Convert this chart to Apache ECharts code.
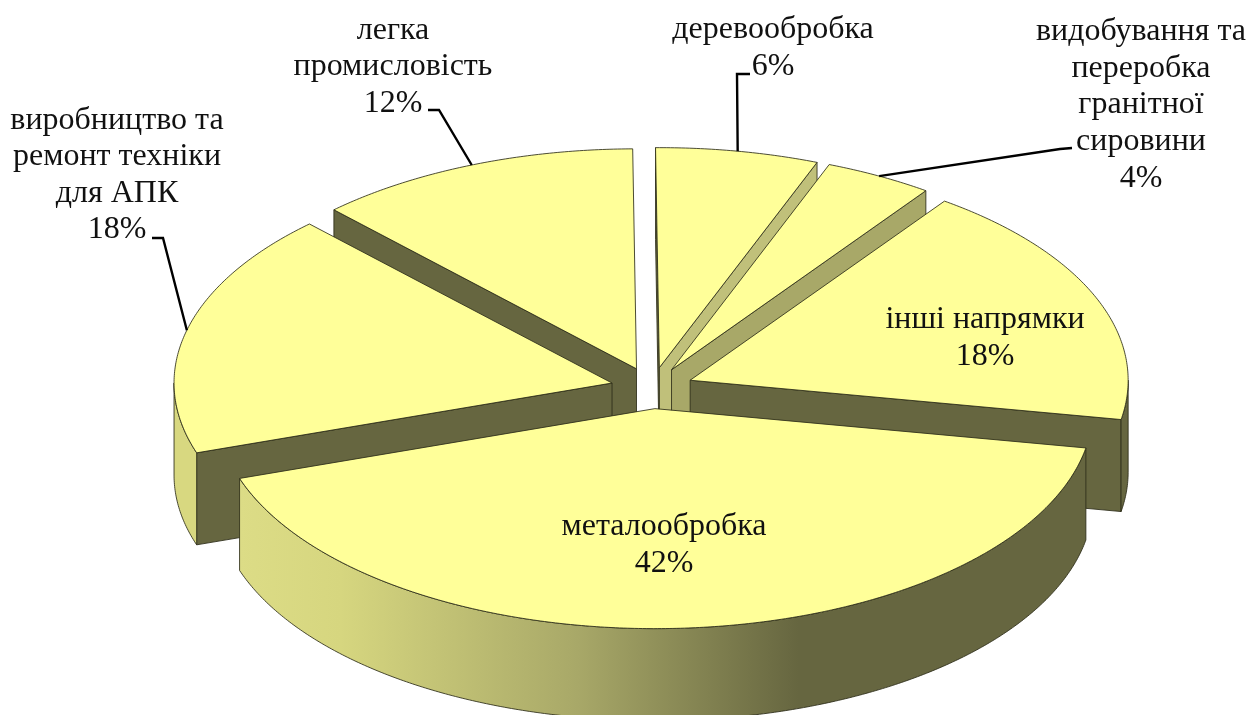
<!DOCTYPE html>
<html>
<head>
<meta charset="utf-8">
<style>
  html, body { margin: 0; padding: 0; background: #fff; }
  #main { width: 1248px; height: 715px; }
</style>
<script src="https://cdn.jsdelivr.net/npm/echarts@6/dist/echarts.min.js"></script>
</head>
<body>
<div id="main"></div>
<script>
// clockwise from the top of the pie
var names = [
  'деревообробка',
  'видобування та\nпереробка\nгранітної\nсировини',
  'інші напрямки',
  'металообробка',
  'виробництво та\nремонт техніки\nдля АПК',
  'легка\nпромисловість'
];
var shares = [6, 4, 18, 42, 18, 12];

// label centres and leader elbows, same order as names (null = label sits on the slice)
var labelCentres = [[773, 48], [1141, 105], [985, 338], [664, 545], [117, 175], [393, 67]];
var leaderStarts = [[750, 74], [1072, 148], null, null, [152, 238], [428, 110]];
var leaderElbows = [[737, 74], [1060, 149], null, null, [163, 238], [439, 110]];

// colours of the walls you can see on each slice
var endWallColors = ['#c0c07a', '#a8a868', '#666640', '#666640', '#666640', '#666640'];
var startWallColor = '#666640';
var topColor = '#ffff99';
var edgeColor = 'rgba(45,45,25,0.85)';

// pie geometry
var cx = 652;
var cy = 388;
var rx = 438;
var ry = 220;
var depth = 92;
var explode = 0.094;
var startAngle = 269.5;

var slices = [];
var total = shares.reduce(function (a, b) { return a + b; }, 0);
var running = startAngle;
shares.forEach(function (share) {
  var sweep = share / total * 360;
  var mid = (running + sweep / 2) * Math.PI / 180;
  slices.push({
    from: running,
    to: running + sweep,
    apex: [cx + rx * explode * Math.cos(mid), cy + ry * explode * Math.sin(mid)],
    anchorAngle: running + sweep / 2
  });
  running += sweep;
});

function rimPoint(slice, deg, drop) {
  var a = deg * Math.PI / 180;
  return [slice.apex[0] + rx * Math.cos(a), slice.apex[1] + ry * Math.sin(a) + (drop || 0)];
}

function arcPoints(slice, from, to, drop) {
  var pts = [];
  var steps = Math.max(2, Math.ceil(Math.abs(to - from) * 2));
  for (var i = 0; i <= steps; i++) {
    pts.push(rimPoint(slice, from + (to - from) * i / steps, drop));
  }
  return pts;
}

function wall(slice, deg, color) {
  var rim = rimPoint(slice, deg, 0);
  return {
    type: 'polygon',
    shape: { points: [slice.apex, rim, [rim[0], rim[1] + depth], [slice.apex[0], slice.apex[1] + depth]] },
    style: { fill: color, stroke: edgeColor, lineWidth: 1 }
  };
}

function outerFill(index) {
  if (index === 3) {
    return new echarts.graphic.LinearGradient(0, 0, 1, 0, [
      { offset: 0, color: '#dcdc86' },
      { offset: 0.12, color: '#d6d67f' },
      { offset: 0.4, color: '#a8a868' },
      { offset: 0.66, color: '#666640' },
      { offset: 1, color: '#666640' }
    ]);
  }
  return index === 2 ? '#666640' : '#d8d880';
}

function renderSlice(params, api) {
  var index = api.value(1);
  var slice = slices[index];
  var children = [];

  if (Math.cos(slice.from * Math.PI / 180) < 0) {
    children.push(wall(slice, slice.from, startWallColor));
  }
  if (Math.cos(slice.to * Math.PI / 180) > 0) {
    children.push(wall(slice, slice.to, endWallColors[index]));
  }

  // the rim only shows on the front half of the ellipse
  [0, 360].forEach(function (turn) {
    var from = Math.max(slice.from, turn);
    var to = Math.min(slice.to, turn + 180);
    if (to > from) {
      var lower = arcPoints(slice, to, from, depth);
      children.push({
        type: 'polygon',
        shape: { points: arcPoints(slice, from, to, 0).concat(lower) },
        style: { fill: outerFill(index), stroke: edgeColor, lineWidth: 1 }
      });
    }
  });

  children.push({
    type: 'polygon',
    shape: { points: [slice.apex].concat(arcPoints(slice, slice.from, slice.to, 0)) },
    style: { fill: topColor, stroke: edgeColor, lineWidth: 1 }
  });

  return { type: 'group', children: children };
}

function renderLabel(params, api) {
  var index = api.value(1);
  var slice = slices[index];
  var children = [];
  if (leaderStarts[index]) {
    children.push({
      type: 'polyline',
      shape: { points: [leaderStarts[index], leaderElbows[index], rimPoint(slice, slice.anchorAngle, 0)] },
      style: { fill: 'none', stroke: '#000', lineWidth: 2.4 }
    });
  }
  children.push({
    type: 'text',
    style: {
      x: labelCentres[index][0],
      y: labelCentres[index][1],
      text: names[index] + '\n' + shares[index] + '%',
      fill: '#111',
      font: '32px "Liberation Serif"',
      lineHeight: 36.6,
      align: 'center',
      verticalAlign: 'middle'
    }
  });
  return { type: 'group', children: children };
}

// paint far slices first so nearer tops cover their walls
var order = shares.map(function (v, i) { return i; }).sort(function (p, q) {
  return Math.sin(slices[p].anchorAngle * Math.PI / 180) - Math.sin(slices[q].anchorAngle * Math.PI / 180);
});

var chartDom = document.getElementById('main');
var myChart = echarts.init(chartDom, null, { renderer: 'canvas' });
myChart.setOption({
  animation: false,
  backgroundColor: '#fff',
  series: [
    {
      type: 'custom',
      coordinateSystem: 'none',
      silent: true,
      renderItem: renderSlice,
      data: order.map(function (i) { return { name: names[i], value: [shares[i], i] }; })
    },
    {
      type: 'custom',
      coordinateSystem: 'none',
      silent: true,
      z: 5,
      renderItem: renderLabel,
      data: shares.map(function (v, i) { return { name: names[i], value: [v, i] }; })
    }
  ]
});
</script>
</body>
</html>
